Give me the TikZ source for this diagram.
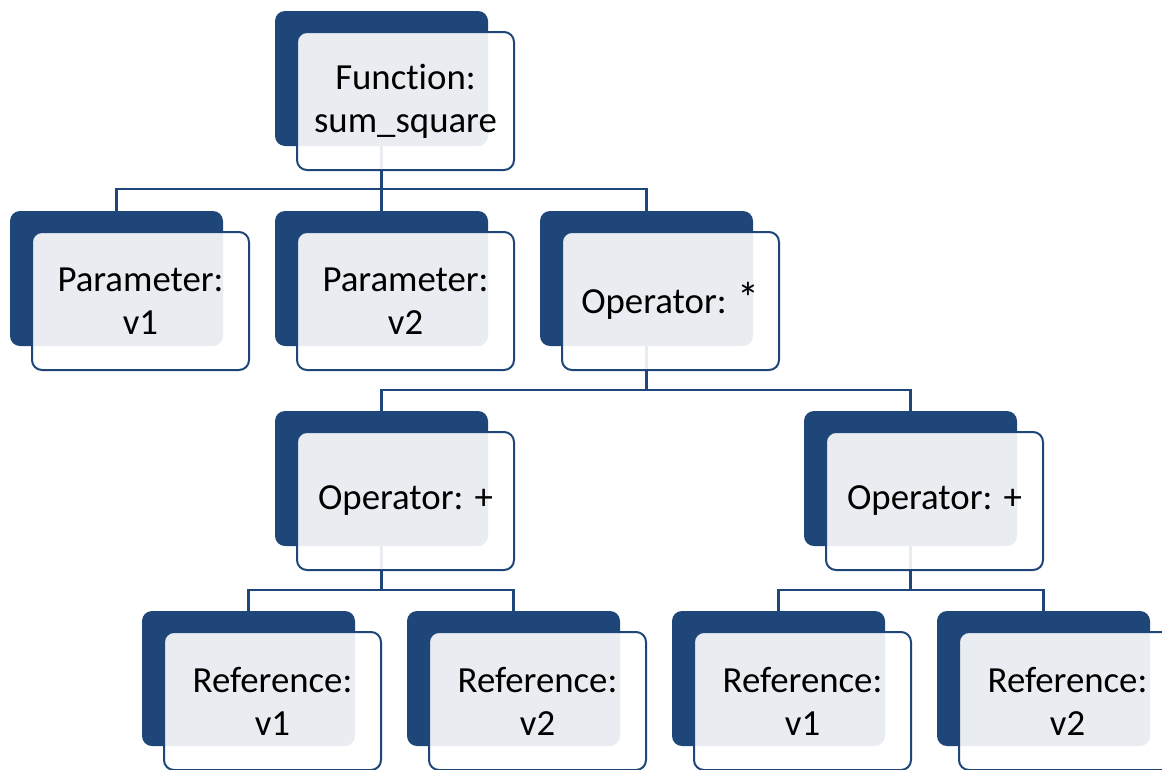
\documentclass[tikz,border=0pt]{standalone}
\usepackage{fontspec}
\setmainfont[Ligatures=NoCommon]{Carlito}
\definecolor{dk}{RGB}{31,70,120}
\pgfdeclarelayer{bg}
\pgfsetlayers{bg,main}
\newcommand\smartnode[4]{%
  \node[back] (#1B) at (#2+106.5,#3+67.5) {};
  \node[front] (#1) at (#2+130.5,#3+90) {#4};
}
\begin{document}
\begin{tikzpicture}[x=1pt,y=-1pt,
  back/.style={fill=dk, rounded corners=10pt, minimum width=213pt, minimum height=135pt, inner sep=0pt},
  front/.style={draw=dk, line width=2pt, fill=white, fill opacity=0.9, text opacity=1,
    rounded corners=10pt, minimum width=217pt, minimum height=138pt, inner sep=0pt,
    align=center, text=black, font=\fontsize{36.8}{43}\selectfont},
  conn/.style={draw=dk, line width=2.4pt}]
\clip (0,0) rectangle (1162,769);
\smartnode{fn}{275}{11}{Function:\\sum\_square}
\smartnode{pa}{10}{211}{Parameter:\\v1}
\smartnode{pb}{275}{211}{Parameter:\\v2}
\smartnode{om}{540}{211}{Operator: {\fontsize{44}{43}\selectfont *}}
\smartnode{oa}{275}{411}{Operator: +}
\smartnode{ob}{804}{411}{Operator: +}
\smartnode{ra}{142}{611}{Reference:\\v1}
\smartnode{rb}{407}{611}{Reference:\\v2}
\smartnode{rc}{672}{611}{Reference:\\v1}
\smartnode{rd}{937}{611}{Reference:\\v2}
\begin{pgfonlayer}{bg}
\draw[conn] (fnB.south) -- ++(0,43) -| (paB.north);
\draw[conn] (fnB.south) -- ++(0,43) -| (pbB.north);
\draw[conn] (fnB.south) -- ++(0,43) -| (omB.north);
\draw[conn] (omB.south) -- ++(0,44) -| (oaB.north);
\draw[conn] (omB.south) -- ++(0,44) -| (obB.north);
\draw[conn] (oaB.south) -- ++(0,44) -| (raB.north);
\draw[conn] (oaB.south) -- ++(0,44) -| (rbB.north);
\draw[conn] (obB.south) -- ++(0,44) -| (rcB.north);
\draw[conn] (obB.south) -- ++(0,44) -| (rdB.north);
\end{pgfonlayer}
\end{tikzpicture}
\end{document}
